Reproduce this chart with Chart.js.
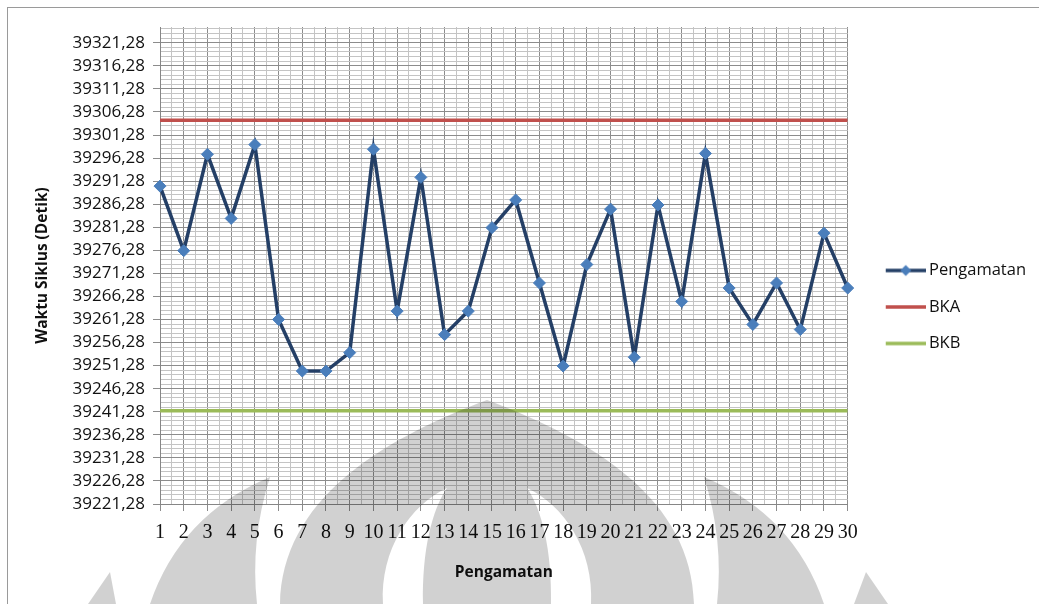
<!DOCTYPE html>
<html>
<head>
<meta charset="utf-8">
<title>Peta Kendali Waktu Siklus</title>
<script src="https://cdn.jsdelivr.net/npm/chart.js@4"></script>
<style>
  html, body { margin: 0; padding: 0; background: #fff; overflow: hidden; }
  #wrap { position: relative; width: 1039px; height: 604px; }
  #frame { position: absolute; left: 7px; top: 7px; width: 1100px; height: 700px;
           border-left: 1px solid #9a9a9a; border-top: 1px solid #9a9a9a; }
  #chart { position: absolute; left: 0; top: 0; }
</style>
</head>
<body>
<div id="wrap">
  <div id="frame"></div>
  <canvas id="chart" width="1039" height="604"></canvas>
</div>
<script>
// nomor pengamatan
const pengamatanKe = [1, 2, 3, 4, 5, 6, 7, 8, 9, 10, 11, 12, 13, 14, 15,
                      16, 17, 18, 19, 20, 21, 22, 23, 24, 25, 26, 27, 28, 29, 30];

// waktu siklus tiap pengamatan (detik)
const waktuSiklus = [39290.2, 39276.2, 39297.1, 39283.2, 39299.2, 39261.3, 39250.1, 39250.1,
                     39254.1, 39298.2, 39263.1, 39292.1, 39258.0, 39263.1, 39281.2, 39287.2,
                     39269.2, 39251.2, 39273.2, 39285.2, 39253.1, 39286.1, 39265.2, 39297.3,
                     39268.1, 39260.2, 39269.2, 39259.1, 39280.0, 39268.1];

// batas kendali atas
const bka = [39304.5, 39304.5, 39304.5, 39304.5, 39304.5, 39304.5, 39304.5, 39304.5,
             39304.5, 39304.5, 39304.5, 39304.5, 39304.5, 39304.5, 39304.5, 39304.5,
             39304.5, 39304.5, 39304.5, 39304.5, 39304.5, 39304.5, 39304.5, 39304.5,
             39304.5, 39304.5, 39304.5, 39304.5, 39304.5, 39304.5];

// batas kendali bawah
const bkb = [39241.5, 39241.5, 39241.5, 39241.5, 39241.5, 39241.5, 39241.5, 39241.5,
             39241.5, 39241.5, 39241.5, 39241.5, 39241.5, 39241.5, 39241.5, 39241.5,
             39241.5, 39241.5, 39241.5, 39241.5, 39241.5, 39241.5, 39241.5, 39241.5,
             39241.5, 39241.5, 39241.5, 39241.5, 39241.5, 39241.5];

// sumbu Y: label tiap 5 detik, garis bantu tiap 1 detik
const yMin = 39221.28;
const yMax = 39324.7;
const yLabelStep = 5;

const warnaGaris = '#243f66';
const warnaTitik = '#4a7ebb';
const warnaBKA = '#c0504d';
const warnaBKB = '#9bbb59';
const gridUtama = '#8c8c8c';
const gridKecil = '#c4c4c4';

function isMajorY(v) {
    return Math.round(v - yMin) % yLabelStep === 0;
}

// ikon legenda: garis + (opsional) penanda belah ketupat
function legendIcon(color, withMarker) {
    const c = document.createElement('canvas');
    c.width = 63;
    c.height = 14;
    const g = c.getContext('2d');
    g.strokeStyle = color;
    g.lineWidth = 3.5;
    g.beginPath();
    g.moveTo(23, 7);
    g.lineTo(63, 7);
    g.stroke();
    if (withMarker) {
        g.fillStyle = warnaTitik;
        g.beginPath();
        g.moveTo(43, 1.5);
        g.lineTo(48.5, 7);
        g.lineTo(43, 12.5);
        g.lineTo(37.5, 7);
        g.closePath();
        g.fill();
    }
    return c;
}

const legendIcons = [
    legendIcon(warnaGaris, true),
    legendIcon(warnaBKA, false),
    legendIcon(warnaBKB, false)
];

// logo samar di bagian bawah
const watermark = {
    id: 'watermark',
    afterDraw(chart) {
        const ctx = chart.ctx;
        ctx.save();
        ctx.fillStyle = 'rgba(0, 0, 0, 0.18)';

        // kubah tengah dengan dua celah sabit
        ctx.beginPath();
        ctx.moveTo(280, 604);
        ctx.bezierCurveTo(282, 500, 380, 440, 487, 400);
        ctx.bezierCurveTo(594, 440, 692, 500, 694, 604);
        ctx.closePath();
        ctx.moveTo(383, 604);
        ctx.bezierCurveTo(380, 550, 410, 505, 447, 488);
        ctx.bezierCurveTo(432, 510, 422, 550, 423, 604);
        ctx.closePath();
        ctx.moveTo(591, 604);
        ctx.bezierCurveTo(594, 550, 564, 505, 527, 488);
        ctx.bezierCurveTo(542, 510, 552, 550, 551, 604);
        ctx.closePath();
        ctx.fill('evenodd');

        // kelopak kiri dan kanan
        ctx.beginPath();
        ctx.moveTo(270, 477);
        ctx.quadraticCurveTo(180, 515, 150, 604);
        ctx.lineTo(257, 604);
        ctx.quadraticCurveTo(250, 540, 270, 477);
        ctx.closePath();
        ctx.moveTo(704, 477);
        ctx.quadraticCurveTo(794, 515, 824, 604);
        ctx.lineTo(717, 604);
        ctx.quadraticCurveTo(724, 540, 704, 477);
        ctx.closePath();
        ctx.fill();

        // ujung runcing paling luar
        ctx.beginPath();
        ctx.moveTo(110, 572);
        ctx.lineTo(88, 604);
        ctx.lineTo(116, 604);
        ctx.closePath();
        ctx.moveTo(866, 572);
        ctx.lineTo(854, 604);
        ctx.lineTo(888, 604);
        ctx.closePath();
        ctx.fill();
        ctx.restore();
    }
};

const toPoints = (ys) => ys.map((y, i) => ({ x: pengamatanKe[i], y: y }));

new Chart(document.getElementById('chart'), {
    type: 'line',
    data: {
        datasets: [{
            label: 'Pengamatan',
            data: toPoints(waktuSiklus),
            borderColor: warnaGaris,
            borderWidth: 3.5,
            pointStyle: 'rectRot',
            pointRadius: 6,
            pointBackgroundColor: warnaTitik,
            pointBorderColor: warnaTitik,
            pointBorderWidth: 1,
            tension: 0,
            clip: false
        }, {
            label: 'BKA',
            data: toPoints(bka),
            borderColor: warnaBKA,
            borderWidth: 3.5,
            pointRadius: 0
        }, {
            label: 'BKB',
            data: toPoints(bkb),
            borderColor: warnaBKB,
            borderWidth: 3.5,
            pointRadius: 0
        }]
    },
    options: {
        responsive: false,
        animation: false,
        layout: { padding: { top: 27, right: 3, bottom: 17, left: 0 } },
        plugins: {
            tooltip: { enabled: false },
            legend: {
                position: 'right',
                align: 'center',
                labels: {
                    usePointStyle: true,
                    pointStyleWidth: 53,
                    padding: 20,
                    color: '#111',
                    font: { family: 'Open Sans', size: 16.5 },
                    generateLabels(chart) {
                        const items = Chart.defaults.plugins.legend.labels.generateLabels(chart);
                        items.forEach((it, i) => { it.pointStyle = legendIcons[i]; });
                        return items;
                    }
                }
            }
        },
        scales: {
            x: {
                type: 'linear',
                min: pengamatanKe[0],
                max: pengamatanKe[pengamatanKe.length - 1],
                afterBuildTicks(scale) {
                    const t = [];
                    for (let v = scale.min; v <= scale.max; v += 0.5) t.push({ value: v });
                    scale.ticks = t;
                },
                afterFit(scale) { scale.height = 83; },
                border: { color: '#868686', width: 1 },
                grid: {
                    color: (c) => Number.isInteger(c.tick.value) ? gridUtama : gridKecil,
                    tickColor: (c) => Number.isInteger(c.tick.value) ? gridUtama : 'rgba(0,0,0,0)',
                    tickLength: 7
                },
                ticks: {
                    autoSkip: false,
                    maxRotation: 0,
                    minRotation: 0,
                    padding: 10,
                    color: '#111',
                    font: { family: 'Liberation Serif', size: 20 },
                    callback: (v) => Number.isInteger(v) ? String(v) : ''
                },
                title: {
                    display: true,
                    text: 'Pengamatan',
                    color: '#111',
                    font: { family: 'Open Sans', size: 15.5, weight: 'bold' },
                    padding: { top: 0, bottom: 5 }
                }
            },
            y: {
                min: yMin,
                max: yMax,
                afterBuildTicks(scale) {
                    const t = [];
                    for (let k = 0; yMin + k <= yMax; k++) t.push({ value: +(yMin + k).toFixed(2) });
                    scale.ticks = t;
                },
                afterFit(scale) { scale.width = 160; },
                border: { color: '#868686', width: 1 },
                grid: {
                    color: (c) => isMajorY(c.tick.value) ? gridUtama : gridKecil,
                    tickColor: (c) => isMajorY(c.tick.value) ? gridUtama : 'rgba(0,0,0,0)',
                    tickLength: 7
                },
                ticks: {
                    autoSkip: false,
                    padding: 8,
                    color: '#111',
                    font: { family: 'Open Sans', size: 17 },
                    callback: (v) => isMajorY(v) ? v.toFixed(2).replace('.', ',') : ''
                },
                title: {
                    display: true,
                    text: 'Waktu Siklus (Detik)',
                    color: '#111',
                    font: { family: 'Open Sans', size: 15.5, weight: 'bold' },
                    padding: { top: 33, bottom: 0 }
                }
            }
        }
    },
    plugins: [watermark]
});
</script>
</body>
</html>
